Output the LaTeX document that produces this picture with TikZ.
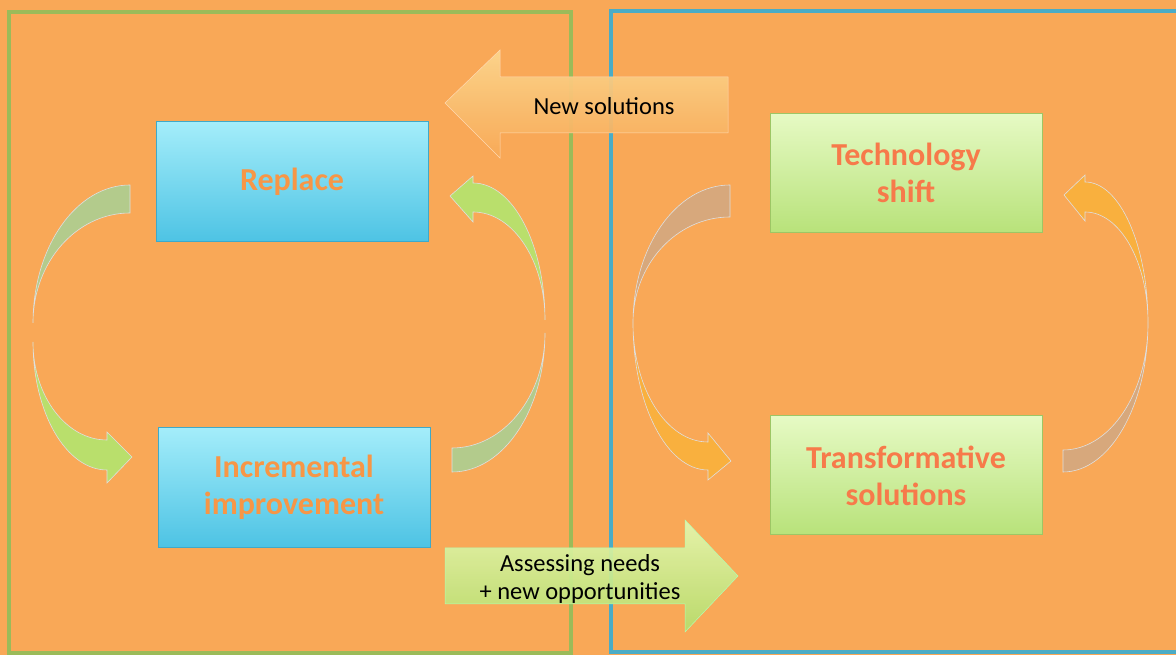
\documentclass[tikz,border=0pt]{standalone}
\usepackage{fontspec}
\setmainfont{Carlito}
\definecolor{bgorange}{HTML}{F9A857}
\definecolor{framegreen}{HTML}{9BBB59}
\definecolor{frameblue}{HTML}{4BACC6}
\definecolor{greengray}{HTML}{B3CB8C}
\definecolor{greenbright}{HTML}{B9DF6C}
\definecolor{tanc}{HTML}{D7A87C}
\definecolor{golden}{HTML}{F9B03E}
\definecolor{blueT}{HTML}{A4EDFA}
\definecolor{blueB}{HTML}{4DC3E4}
\definecolor{blueD}{HTML}{3FA9C9}
\definecolor{greenT}{HTML}{E6FAC4}
\definecolor{greenB}{HTML}{B8E27A}
\definecolor{greenD}{HTML}{9DC665}
\definecolor{txtorange}{HTML}{F79646}
\definecolor{txtred}{HTML}{F77A4A}
\definecolor{arrT}{HTML}{FCD68E}
\definecolor{arrM}{HTML}{FBBD6E}
\definecolor{arrB}{HTML}{F8AA58}
\definecolor{agrT}{HTML}{E4F8B0}
\definecolor{agrB}{HTML}{B5DE6C}
\begin{document}
\begin{tikzpicture}[x=1pt,y=1pt,
  boxtext/.style={font=\fontsize{32}{37}\selectfont\bfseries, align=center},
  bluebox/.style={rectangle, minimum width=272pt, minimum height=120pt, inner sep=0pt,
    top color=blueT, bottom color=blueB, draw=blueD, line width=1pt, text=txtorange, boxtext},
  greenbox/.style={rectangle, minimum width=272pt, minimum height=119pt, inner sep=0pt,
    top color=greenT, bottom color=greenB, draw=greenD, line width=1pt, text=txtred, boxtext},
  crescent/.style={draw=white!75!gray, line width=0.6pt},
  arrowtext/.style={font=\fontsize{24.5}{28}\selectfont, align=center, text=black, inner sep=0pt},
  framestyle/.style={line width=4pt}
]
\fill[bgorange] (0,0) rectangle (1176,655);
\useasboundingbox (0,0) rectangle (1176,655);

% frames
\draw[framestyle, framegreen] (9,2) rectangle (571,643);
\draw[framestyle, frameblue] (611,3) rectangle (1190,644);

% left cycle arrows
\path[crescent, fill=greengray] (130,470) arc[start angle=90,end angle=180,x radius=97,y radius=138]
  arc[start angle=180,end angle=90,x radius=97,y radius=110] -- cycle;
\path[crescent, fill=greenbright] (33,313) arc[start angle=180,end angle=270,x radius=74,y radius=128]
  -- (107,172) -- (132,198) -- (107,223) -- (107,215)
  arc[start angle=270,end angle=180,x radius=74,y radius=98] -- cycle;
\path[crescent, fill=greenbright] (545,335) arc[start angle=0,end angle=90,x radius=72,y radius=137]
  -- (473,479) -- (450,459) -- (473,433) -- (473,443)
  arc[start angle=90,end angle=0,x radius=72,y radius=108] -- cycle;
\path[crescent, fill=greengray] (545,322) arc[start angle=0,end angle=-90,x radius=93,y radius=139]
  -- (452,207) arc[start angle=-90,end angle=0,x radius=93,y radius=115] -- cycle;

% right cycle arrows
\path[crescent, fill=tanc] (730,470) arc[start angle=90,end angle=180,x radius=97,y radius=138]
  arc[start angle=180,end angle=90,x radius=97,y radius=106] -- cycle;
\path[crescent, fill=golden] (633,332) arc[start angle=180,end angle=270,x radius=75,y radius=147]
  -- (708,175) -- (731,194) -- (708,222) -- (708,213)
  arc[start angle=270,end angle=180,x radius=75,y radius=119] -- cycle;
\path[crescent, fill=golden] (1148,332) arc[start angle=0,end angle=90,x radius=63,y radius=141]
  -- (1085,480) -- (1064,460) -- (1085,434) -- (1085,443)
  arc[start angle=90,end angle=0,x radius=63,y radius=111] -- cycle;
\path[crescent, fill=tanc] (1148,332) arc[start angle=0,end angle=-90,x radius=85,y radius=149]
  -- (1063,205) arc[start angle=-90,end angle=0,x radius=85,y radius=127] -- cycle;

% boxes
\node[bluebox] (replace) at (292,473) {Replace};
\node[bluebox] (incr) at (294,167.5) {Incremental\\improvement};
\node[greenbox] (tech) at (906,482) {Technology\\shift};
\node[greenbox] (transf) at (906,179.5) {Transformative\\solutions};

% block arrows
\path[fill opacity=0.94, top color=arrT, middle color=arrM, bottom color=arrB, draw=white!70!orange, line width=0.5pt]
  (445,552) -- (500,605) -- (500,578) -- (728,578) -- (728,522) -- (500,522) -- (500,497) -- cycle;
\node[arrowtext] (newsol) at (604,549) {New solutions};

\path[fill opacity=0.92, top color=agrT, bottom color=agrB, draw=white!70!green, line width=0.5pt]
  (445,107) -- (685,107) -- (685,135) -- (738,79) -- (685,23) -- (685,51) -- (445,51) -- cycle;
\node[arrowtext] (assess) at (580,76) {Assessing needs\\+ new opportunities};
\end{tikzpicture}
\end{document}
